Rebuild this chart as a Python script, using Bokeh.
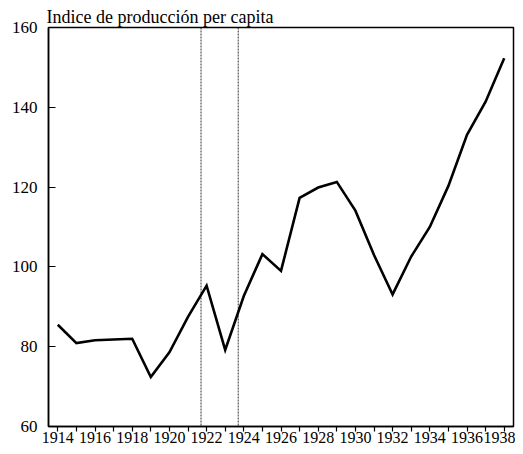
from bokeh.plotting import figure
from bokeh.models import Range1d, FixedTicker, Span
from bokeh.embed import file_html
from bokeh.resources import INLINE

years = list(range(1914, 1939))
index_values = [85.5, 80.9, 81.6, 81.8, 82.0, 72.4, 78.6, 87.5, 95.3, 79.2,
                92.7, 103.2, 99.0, 117.3, 119.9, 121.3, 114.1, 103.0, 93.1,
                102.6, 110.0, 120.3, 133.1, 141.4, 152.3]
marker_years = [1921.7, 1923.7]
x_major_ticks = list(range(1914, 1939, 2))
x_minor_ticks = list(range(1915, 1938, 2))
y_ticks = [60, 80, 100, 120, 140, 160]
title_text = "Indice de producción per capita"

FONT = "Liberation Serif"

p = figure(width=515, height=446, output_backend="svg", toolbar_location=None,
           x_range=Range1d(1913.5, 1938.5), y_range=Range1d(60, 160),
           min_border_left=48, min_border_right=2, min_border_top=27,
           min_border_bottom=20)

p.title.text = title_text
p.title.align = "left"
p.title.offset = -2
p.title.standoff = 1
p.title.text_font = FONT
p.title.text_font_size = "18px"
p.title.text_font_style = "normal"
p.title.text_color = "black"

p.xgrid.visible = False
p.ygrid.visible = False
p.outline_line_color = "black"
p.outline_line_width = 1.5
p.background_fill_color = "white"
p.border_fill_color = "white"

for loc in marker_years:
    p.add_layout(Span(location=loc, dimension="height", line_color="black",
                      line_width=0.8, line_dash="2 1"))

p.line(years, index_values, line_color="black", line_width=2.6,
       line_join="miter")

xa = p.xaxis[0]
xa.ticker = FixedTicker(ticks=x_major_ticks, minor_ticks=x_minor_ticks)
xa.major_tick_in = 0
xa.major_tick_out = 5
xa.minor_tick_in = 0
xa.minor_tick_out = 5
xa.axis_line_width = 1.5
xa.major_tick_line_width = 1.2
xa.minor_tick_line_width = 1.2
xa.major_label_text_font = FONT
xa.major_label_text_font_size = "16px"
xa.major_label_text_color = "black"
xa.major_label_standoff = 0

ya = p.yaxis[0]
ya.ticker = FixedTicker(ticks=y_ticks)
ya.major_tick_in = 7
ya.major_tick_out = 0
ya.minor_tick_in = 0
ya.minor_tick_out = 0
ya.axis_line_width = 1.5
ya.major_tick_line_width = 1.2
ya.major_label_text_font = FONT
ya.major_label_text_font_size = "17px"
ya.major_label_text_color = "black"
ya.major_label_standoff = 11

open("out.html", "w").write(file_html(p, INLINE))
